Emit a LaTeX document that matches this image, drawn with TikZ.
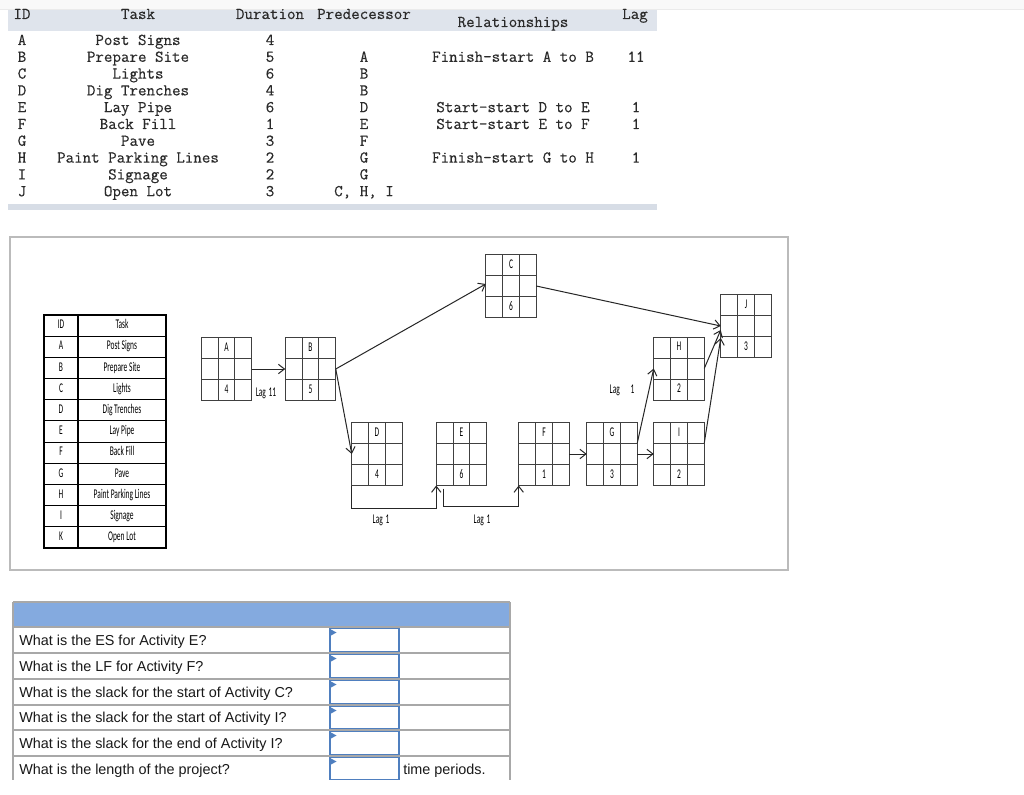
\documentclass[tikz,border=0pt]{standalone}
\usepackage{fontspec}
\newfontfamily\qfont{Liberation Sans}
\newfontfamily\nfont[FakeStretch=0.56]{Carlito}
\newfontfamily\ttb{Latin Modern Mono}[FakeBold=0.35]
\usetikzlibrary{arrows.meta,calc}
\definecolor{hdr}{HTML}{DFE4EC}
\definecolor{hdrb}{HTML}{D7DDE6}
\definecolor{strip}{HTML}{F9F9F9}
\definecolor{stripl}{HTML}{EBEBEB}
\definecolor{txt}{HTML}{2A2A2A}
\definecolor{framec}{HTML}{BBBBBB}
\definecolor{boxc}{HTML}{404040}
\definecolor{qblue}{HTML}{84AADF}
\definecolor{qline}{HTML}{A8A8A8}
\definecolor{inblue}{HTML}{4F7FBF}
\newcommand{\actbox}[5]{%
  \node[abox] (#1) at (#2,#3) {};
  \draw[gridl] ($(#1.north west)!1/3!(#1.north east)$) -- ($(#1.south west)!1/3!(#1.south east)$)
               ($(#1.north west)!2/3!(#1.north east)$) -- ($(#1.south west)!2/3!(#1.south east)$)
               ($(#1.north west)!1/3!(#1.south west)$) -- ($(#1.north east)!1/3!(#1.south east)$)
               ($(#1.north west)!2/3!(#1.south west)$) -- ($(#1.north east)!2/3!(#1.south east)$);
  \node[ntext] (#1-id) at ($(#1.north)!1/6!(#1.south)$) {#4};
  \node[ntext] (#1-du) at ($(#1.north)!5/6!(#1.south)$) {#5};
}
\begin{document}
\begin{tikzpicture}[x=0.75pt,y=-0.75pt,
  tt/.style={font=\ttb\fontsize{12.4}{14}\selectfont, text=txt, inner sep=0, anchor=base},
  ntext/.style={font=\nfont\fontsize{10}{11}\selectfont, inner sep=0, text height=1.4ex, text depth=0.3ex},
  abox/.style={draw=boxc, line width=0.75pt, minimum width=37.9pt, minimum height=47.25pt, inner sep=0, outer sep=0},
  gridl/.style={draw=boxc, line width=0.75pt},
  conn/.style={draw=black!85, line width=0.75pt},
  arr/.style={conn, -{Straight Barb[length=4.5pt,width=7pt]}},
  tline/.style={draw=black, line width=0.8pt},
  qt/.style={font=\qfont\fontsize{10.8}{13}\selectfont, text=black!90, inner sep=0, anchor=base west},
  inbox/.style={draw=inblue, line width=1.2pt},
]
\useasboundingbox (0,0) rectangle (1024,795);
\fill[white] (0,0) rectangle (1024,795);

% ---------- top table ----------
\fill[strip] (0,0) rectangle (1024,9);
\draw[stripl, line width=0.75pt] (0,9.5) -- (1024,9.5);
\fill[hdr] (8,10) rectangle (657,31);
\fill[hdrb] (8,204) rectangle (657,210);
\node[tt] (h-id) at (22,19) {ID};
\node[tt] (h-task) at (138,19) {Task};
\node[tt] (h-dur) at (270,19) {Duration};
\node[tt] (h-pred) at (364,19) {Predecessor};
\node[tt] (h-rel) at (513,27) {Relationships};
\node[tt] (h-lag) at (635,19) {Lag};
\foreach \i/\t/\d/\p/\r/\l [count=\k from 0] in {
  A/Post Signs/4///,
  B/Prepare Site/5/A/Finish-start A to B/11,
  C/Lights/6/B//,
  D/Dig Trenches/4/B//,
  E/Lay Pipe/6/D/Start-start D to E/1,
  F/Back Fill/1/E/Start-start E to F/1,
  G/Pave/3/F//,
  H/Paint Parking Lines/2/G/Finish-start G to H/1,
  I/Signage/2/G//,
  J/Open Lot/3/{C, H, I}//}{
  \node[tt] (r\k-id) at (22,{45+16.8*\k}) {\i};
  \node[tt] (r\k-task) at (138,{45+16.8*\k}) {\t};
  \node[tt] (r\k-dur) at (270,{45+16.8*\k}) {\d};
  \node[tt] (r\k-pred) at (364,{45+16.8*\k}) {\p};
  \node[tt] (r\k-rel) at (513,{45+16.8*\k}) {\r};
  \node[tt] (r\k-lag) at (636,{45+16.8*\k}) {\l};
}

% ---------- diagram frame ----------
\draw[framec, line width=1.1pt] (10,237) rectangle (788,570);

% left small table
\draw[tline] (44,315) rectangle (166,548);
\draw[tline] (78,315) -- (78,548);
\foreach \k in {1,...,10} \draw[tline] (44,{315+21.18*\k}) -- (166,{315+21.18*\k});
\foreach \i/\t [count=\k from 0] in {ID/Task, A/Post Signs, B/Prepare Site, C/Lights, D/Dig Trenches, E/Lay Pipe, F/Back Fill, G/Pave, H/Paint Parking Lines, I/Signage, K/Open Lot}{
  \node[ntext] (lt\k-id) at (61,{325.6+21.18*\k}) {\i};
  \node[ntext] (lt\k-task) at (122,{325.6+21.18*\k}) {\t};
}

% activity boxes
\actbox{A}{226.5}{369}{A}{4}
\actbox{B}{310.5}{369}{B}{5}
\actbox{C}{511}{286}{C}{6}
\actbox{D}{377}{454}{D}{4}
\actbox{E}{461.5}{454}{E}{6}
\actbox{F}{544}{454}{F}{1}
\actbox{G}{612}{454}{G}{3}
\actbox{H}{679}{368.5}{H}{2}
\actbox{I}{679}{454}{I}{2}
\actbox{J}{746}{326}{J}{3}

% connectors
\draw[arr] (A.east) -- (B.west);
\draw[arr] (B.east) -- ($(C.west)+(0,-2)$);
\draw[arr] (B.east) -- (D.west);
\draw[arr] (C.east) -- (J.west);
\draw[arr] (H.east) -- ($(J.west)+(0,4)$);
\draw[arr] ($(I.east)+(0,-11)$) -- ($(J.west)+(0,12)$);
\draw[arr] ($(G.east)+(0,-11)$) -- (H.west);
\draw[arr] (F.east) -- (G.west);
\draw[arr] (G.east) -- (I.west);
\draw[arr] (D.south west) -- ++(0,23) -| (E.south west);
\draw[arr] ($(E.south west)+(7,3)$) -- ++(0,18) -| (F.south west);

% lag labels
\node[ntext] (lagAB) at (266,393) {Lag\hspace{2pt}11};
\node[ntext] (lagDE) at (381,520) {Lag\hspace{2pt}1};
\node[ntext] (lagEF) at (482,520) {Lag\hspace{2pt}1};
\node[ntext] (lagGH) at (622,390) {Lag\hspace{8pt}1};

% ---------- question table ----------
\fill[qblue] (13,602) rectangle (510,627);
\draw[qline, line width=0.9pt] (13,602) -- (510,602);
\draw[qline, line width=0.9pt] (13,602) -- (13,780) (510,602) -- (510,780);
\foreach \y in {627,653,679,705,730,756} \draw[qline, line width=0.9pt] (13,\y) -- (510,\y);
\foreach \t/\b [count=\k] in {627/653,653/679,679/705,705/730,730/756,756/781}{
  \draw[inbox] (330,\t+1.5) rectangle (399,\b-1.5);
  \fill[inblue] (331,\t+2.5) -- (336.5,\t+5.5) -- (331,\t+8.5) -- cycle;
}
\node[qt] (q1) at (19,645) {What is the ES for Activity E?};
\node[qt] (q2) at (19,671) {What is the LF for Activity F?};
\node[qt] (q3) at (19,697) {What is the slack for the start of Activity C?};
\node[qt] (q4) at (19,722) {What is the slack for the start of Activity I?};
\node[qt] (q5) at (19,748) {What is the slack for the end of Activity I?};
\node[qt] (q6) at (19,774) {What is the length of the project?};
\node[qt] (q6u) at (403,774) {time periods.};
\end{tikzpicture}
\end{document}
